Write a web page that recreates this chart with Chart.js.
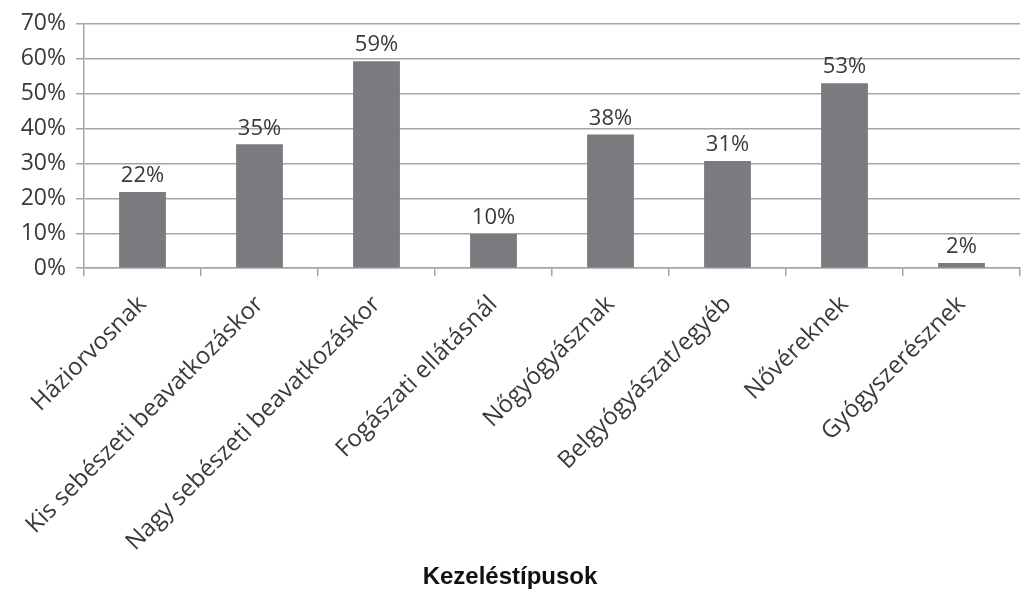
<!DOCTYPE html>
<html>
<head>
<meta charset="utf-8">
<script src="https://cdn.jsdelivr.net/npm/chart.js@4.4.1/dist/chart.umd.min.js"></script>
<style>
  html, body { margin: 0; padding: 0; background: #fff; }
  #wrap { width: 1028px; height: 600px; }
</style>
</head>
<body>
<div id="wrap"><canvas id="chart" width="1028" height="600"></canvas></div>
<script>
// Kategóriák és értékek (%)
const categories = [
  'Háziorvosnak',
  'Kis sebészeti beavatkozáskor',
  'Nagy sebészeti beavatkozáskor',
  'Fogászati ellátásnál',
  'Nőgyógyásznak',
  'Belgyógyászat/egyéb',
  'Nővéreknek',
  'Gyógyszerésznek'
];
const values = [21.8, 35.5, 59.3, 9.8, 38.3, 30.7, 53.0, 1.5];
const valueLabels = ['22%', '35%', '59%', '10%', '38%', '31%', '53%', '2%'];
const yTicks = [0, 10, 20, 30, 40, 50, 60, 70];

const axisGray = '#a6a6a6';
const textGray = '#3a3a3a';
const labelFont = '"Open Sans", "DejaVu Sans", sans-serif';

// Feliratok az oszlopok fölé
const barLabels = {
  id: 'barLabels',
  afterDatasetsDraw(chart) {
    const ctx = chart.ctx;
    const meta = chart.getDatasetMeta(0);
    ctx.save();
    ctx.font = '22px ' + labelFont;
    ctx.fillStyle = textGray;
    ctx.textAlign = 'center';
    ctx.textBaseline = 'bottom';
    meta.data.forEach((bar, i) => {
      ctx.fillText(valueLabels[i], bar.x, bar.y - 5);
    });
    ctx.restore();
  }
};

new Chart(document.getElementById('chart'), {
  type: 'bar',
  data: {
    labels: categories,
    datasets: [{
      data: values,
      backgroundColor: '#7a7b7f',
      borderWidth: 0,
      categoryPercentage: 1,
      barPercentage: 0.4
    }]
  },
  options: {
    responsive: false,
    animation: false,
    layout: { padding: { left: 0, right: 8, top: 18, bottom: 0 } },
    plugins: {
      legend: { display: false },
      tooltip: { enabled: false },
      title: {
        display: true,
        position: 'bottom',
        text: 'Kezeléstípusok',
        color: '#111',
        font: { family: '"Liberation Sans", Arial, sans-serif', size: 24, weight: 'bold' },
        padding: { top: 0, bottom: 8 }
      }
    },
    scales: {
      y: {
        min: 0,
        max: 70,
        afterFit: (scale) => { scale.width = 84; },
        afterBuildTicks: (scale) => { scale.ticks = yTicks.map(v => ({ value: v })); },
        grid: { color: axisGray, lineWidth: 1.5, tickLength: 8 },
        border: { display: true, color: axisGray, width: 1.5 },
        ticks: {
          color: textGray,
          font: { family: labelFont, size: 23 },
          padding: 10,
          callback: (v) => v + '%'
        }
      },
      x: {
        afterFit: (scale) => { scale.height = 295; },
        grid: { display: true, drawOnChartArea: false, drawTicks: true, tickLength: 8, offset: true, color: axisGray, lineWidth: 1.5 },
        border: { display: true, color: axisGray, width: 1.5 },
        ticks: {
          color: textGray,
          minRotation: 45,
          maxRotation: 45,
          autoSkip: false,
          padding: 14,
          font: { family: labelFont, size: 24 }
        }
      }
    }
  },
  plugins: [barLabels]
});
</script>
</body>
</html>
